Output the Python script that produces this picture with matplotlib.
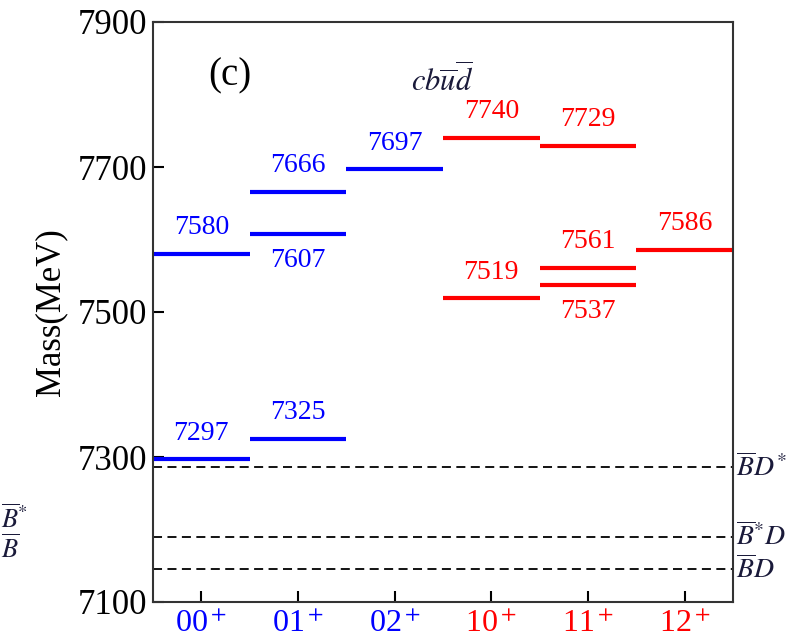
import numpy as np
import matplotlib
matplotlib.use("Agg")
import matplotlib.pyplot as plt

plt.rcParams['font.family'] = ['Liberation Serif', 'DejaVu Serif']
plt.rcParams['mathtext.fontset'] = 'stix'

states = ["00$^+$", "01$^+$", "02$^+$", "10$^+$", "11$^+$", "12$^+$"]
state_colors = ["blue", "blue", "blue", "red", "red", "red"]

# state index, mass, label above the bar or below
level_pos = [0, 0, 1, 1, 1, 2, 3, 3, 4, 4, 4, 5]
level_mass = [7297, 7580, 7325, 7607, 7666, 7697, 7519, 7740, 7537, 7561, 7729, 7586]
level_above = [True, True, True, False, True, True, True, True, False, True, True, True]

thresholds = [7286, 7190, 7145]
threshold_names = [r"$\overline{B}D^{*}$", r"$\overline{B}^{*}D$", r"$\overline{B}D$"]

fig = plt.figure(figsize=(8.08, 6.42), dpi=100)
ax = fig.add_axes([153/808, 40/642, 580/808, 580/642])

for p, m, above in zip(level_pos, level_mass, level_above):
    c = state_colors[p]
    ax.plot([p - 0.5, p + 0.5], [m, m], color=c, lw=3, solid_capstyle='butt')
    off = 36 if above else -36
    ax.text(p, m + off, str(m), color=c, fontsize=20, ha='center', va='center')

for t, name in zip(thresholds, threshold_names):
    ax.axhline(t, color='black', lw=1.3, ls=(0, (5, 3)))
    ax.text(5.53, t, name, fontsize=20, ha='left', va='center', color='#1a1a3a')

ax.set_xlim(-0.5, 5.5)
ax.set_ylim(7100, 7900)
ax.set_yticks([7100, 7300, 7500, 7700, 7900])
ax.set_xticks(range(len(states)))
ax.set_xticklabels(states)
for lab, c in zip(ax.get_xticklabels(), state_colors):
    lab.set_color(c)
ax.tick_params(direction='in', length=8, width=1.5, labelsize=25, pad=4)
ax.tick_params(axis='x', labelsize=23, pad=6)
for s in ax.spines.values():
    s.set_linewidth(1.5)
    s.set_color('#333333')

ax.set_ylabel("Mass(MeV)", fontsize=25, labelpad=8)
ax.text(0.3, 7825, "(c)", fontsize=28, ha='center', va='center')
ax.text(2.49, 7818, r"$cb\overline{u}\overline{d}$", fontsize=22, ha='center', va='center', color='#1a1a3a')

# labels from the neighbouring panel, at the left edge
fig.text(0.001, 1 - 518/642, r"$\overline{B}^{*}$", fontsize=19, ha='left', va='center', color='#1a1a3a')
fig.text(0.001, 1 - 548/642, r"$\overline{B}$", fontsize=19, ha='left', va='center', color='#1a1a3a')

fig.savefig("out.png", dpi=100)
